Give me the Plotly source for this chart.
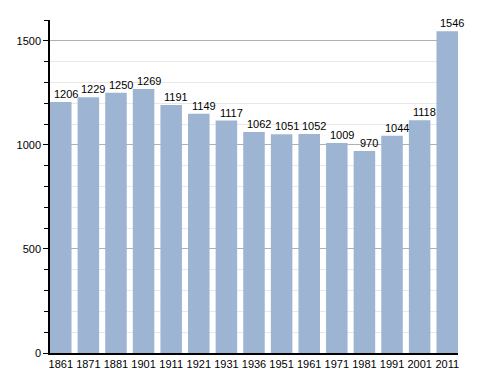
import plotly.graph_objects as go

years = ["1861", "1871", "1881", "1901", "1911", "1921", "1931", "1936",
         "1951", "1961", "1971", "1981", "1991", "2001", "2011"]
population = [1206, 1229, 1250, 1269, 1191, 1149, 1117, 1062,
              1051, 1052, 1009, 970, 1044, 1118, 1546]

bar_color = "#9db5d2"
bargap = 0.22
half = (1 - bargap) / 2

fig = go.Figure()
fig.add_trace(go.Bar(x=list(range(len(years))), y=population,
                     marker=dict(color=bar_color, line=dict(width=0)),
                     hoverinfo="skip"))

for i, v in enumerate(population):
    fig.add_annotation(x=i, y=v, text=str(v), showarrow=False,
                       yanchor="bottom", xanchor="center", xshift=5, yshift=0,
                       font=dict(size=11, color="#000", family="Liberation Sans, Arial"))

fig.update_layout(
    width=488, height=373,
    margin=dict(l=50, r=30, t=20, b=20, autoexpand=False),
    paper_bgcolor="white", plot_bgcolor="white",
    bargap=bargap, showlegend=False,
    font=dict(family="Liberation Sans, Arial", size=11, color="#000"),
    xaxis=dict(range=[-half, len(years) - 1 + half], tickmode="array",
               tickvals=list(range(len(years))), ticktext=years,
               showgrid=False, showline=True, linecolor="#000", linewidth=1.5,
               ticks="", zeroline=False, fixedrange=True, automargin=False),
    yaxis=dict(range=[0, 1600], dtick=500, tick0=0, showgrid=True,
               gridcolor="#b0b0b0", gridwidth=1,
               showline=True, linecolor="#000", linewidth=1.5,
               ticks="outside", ticklen=5, tickcolor="#000",
               zeroline=False, fixedrange=True, automargin=False,
               minor=dict(dtick=100, tick0=0, showgrid=True, gridcolor="#e8e8e8",
                          ticks="outside", ticklen=4, tickcolor="#000")),
)

fig.write_html("out.html", config={"displayModeBar": False},
               post_script="document.body.style.margin='0';")
